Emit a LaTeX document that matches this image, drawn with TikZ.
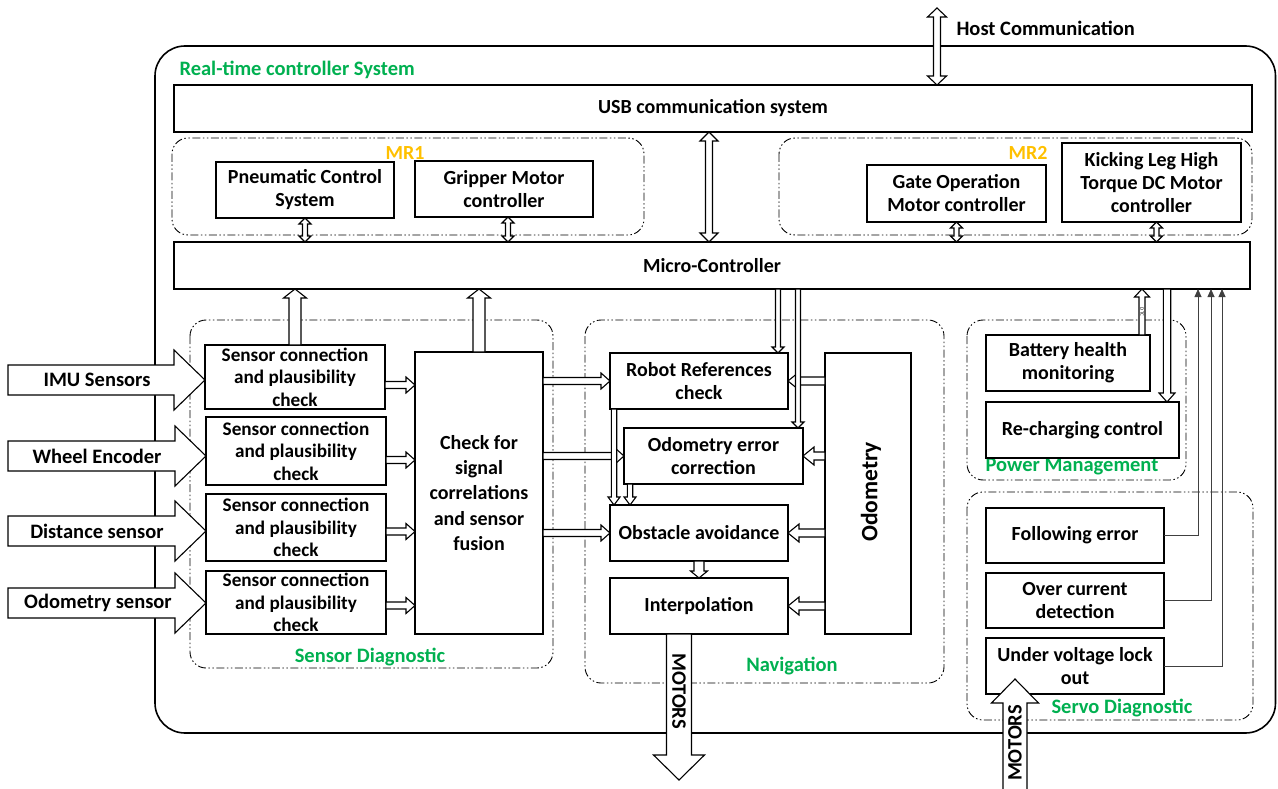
\documentclass[tikz,border=0pt]{standalone}
\usepackage{fontspec}
\setmainfont{Carlito}
\usetikzlibrary{calc,arrows.meta}

\definecolor{lblgreen}{HTML}{00B050}
\definecolor{mrorange}{HTML}{FFC000}

\tikzset{
  blk/.style={draw, line width=1.3pt, fill=white, align=center, inner sep=0pt,
    outer sep=0pt, font=\bfseries\fontsize{20}{23}\selectfont},
  sensbox/.style={blk, minimum width=180, font=\bfseries\fontsize{19.2}{22.5}\selectfont},
  grp/.style={draw=black, line width=0.9pt, rounded corners=16pt,
    dash pattern=on 8pt off 2.5pt on 1.5pt off 2.5pt on 1.5pt off 2.5pt},
  grplabel/.style={text=lblgreen, font=\bfseries\fontsize{20.5}{23}\selectfont},
  mrlabel/.style={text=mrorange, font=\bfseries\fontsize{20}{23}\selectfont},
  lbl/.style={font=\bfseries\fontsize{20.5}{23}\selectfont},
  fatline/.style={draw, fill=white, line width=1.1pt, line join=miter},
  sig/.style={draw=black!75, line width=0.8pt, -{Triangle[width=7pt,length=8pt]}},
}

% hollow block arrow: start, tip, half shaft, half head, head length
\newcommand{\fatarrow}[5]{%
  \draw[fatline] let \p1=(#1), \p2=(#2),
      \n1={veclen(\x2-\x1,\y2-\y1)},
      \n2={(\x2-\x1)/\n1}, \n3={(\y2-\y1)/\n1} in
    ({\x1-(\n3)*#3},{\y1+(\n2)*#3})
    -- ({\x2-(\n2)*#5-(\n3)*#3},{\y2-(\n3)*#5+(\n2)*#3})
    -- ({\x2-(\n2)*#5-(\n3)*#4},{\y2-(\n3)*#5+(\n2)*#4})
    -- (\p2)
    -- ({\x2-(\n2)*#5+(\n3)*#4},{\y2-(\n3)*#5-(\n2)*#4})
    -- ({\x2-(\n2)*#5+(\n3)*#3},{\y2-(\n3)*#5-(\n2)*#3})
    -- ({\x1+(\n3)*#3},{\y1-(\n2)*#3}) -- cycle;}

% hollow block arrow with two heads
\newcommand{\fatdarrow}[5]{%
  \draw[fatline] let \p1=(#1), \p2=(#2),
      \n1={veclen(\x2-\x1,\y2-\y1)},
      \n2={(\x2-\x1)/\n1}, \n3={(\y2-\y1)/\n1} in
    (\p1)
    -- ({\x1+(\n2)*#5-(\n3)*#4},{\y1+(\n3)*#5+(\n2)*#4})
    -- ({\x1+(\n2)*#5-(\n3)*#3},{\y1+(\n3)*#5+(\n2)*#3})
    -- ({\x2-(\n2)*#5-(\n3)*#3},{\y2-(\n3)*#5+(\n2)*#3})
    -- ({\x2-(\n2)*#5-(\n3)*#4},{\y2-(\n3)*#5+(\n2)*#4})
    -- (\p2)
    -- ({\x2-(\n2)*#5+(\n3)*#4},{\y2-(\n3)*#5-(\n2)*#4})
    -- ({\x2-(\n2)*#5+(\n3)*#3},{\y2-(\n3)*#5-(\n2)*#3})
    -- ({\x1+(\n2)*#5+(\n3)*#3},{\y1+(\n3)*#5-(\n2)*#3})
    -- ({\x1+(\n2)*#5+(\n3)*#4},{\y1+(\n3)*#5-(\n2)*#4})
    -- cycle;}

\begin{document}
\begin{tikzpicture}[x=1pt, y=-1pt]
  \useasboundingbox (0,0) rectangle (1278,789);

  % frames
  \draw[line width=1.6pt, rounded corners=30pt] (155,46) rectangle (1275.5,733);
  \draw[grp] (172,138) rectangle (644,235);
  \draw[grp] (779,138) rectangle (1252,235);
  \draw[grp] (190,320) rectangle (553,668);
  \draw[grp] (585,320) rectangle (944,683);
  \draw[grp] (967,320) rectangle (1186,480);
  \draw[grp] (967,492) rectangle (1253,720);

  \node[grplabel, anchor=west] (rtlabel) at (176,70) {Real-time controller System};
  \node[mrlabel] (mr1) at (405,153) {MR1};
  \node[mrlabel] (mr2) at (1028,153) {MR2};
  \node[grplabel] (sdlabel) at (370,657) {Sensor Diagnostic};
  \node[grplabel] (navlabel) at (792,666) {Navigation};
  \node[grplabel] (pwlabel) at (1072,467) {Power Management};
  \node[grplabel] (svlabel) at (1122,708) {Servo Diagnostic};

  % blocks
  \node[blk, minimum width=1078, minimum height=47] (usb) at (713,108.5) {USB communication system};
  \node[blk, minimum width=1076, minimum height=47] (mc) at (712,265.5) {Micro-Controller};
  \node[blk, minimum width=178, minimum height=56] (pneu) at (305,190) {Pneumatic Control\\System};
  \node[blk, minimum width=178, minimum height=56] (grip) at (504,189) {Gripper Motor\\controller};
  \node[blk, minimum width=179, minimum height=57] (gate) at (956.5,193.5) {Gate Operation\\Motor controller};
  \node[blk, minimum width=179, minimum height=79] (kick) at (1151.5,182.5) {Kicking Leg High\\Torque DC Motor\\controller};

  \node[sensbox, minimum height=64] (s1) at (295,377) {Sensor connection\\and plausibility\\check};
  \node[sensbox, minimum height=68] (s2) at (296,451) {Sensor connection\\and plausibility\\check};
  \node[sensbox, minimum height=67] (s3) at (296,527.5) {Sensor connection\\and plausibility\\check};
  \node[sensbox, minimum height=63] (s4) at (296,602.5) {Sensor connection\\and plausibility\\check};
  \node[blk, minimum width=128, minimum height=282, font=\bfseries\fontsize{20}{25.2}\selectfont] (chk) at (479,493) {Check for\\signal\\correlations\\and sensor\\fusion};

  \node[blk, minimum width=178, minimum height=56] (rref) at (699,381) {Robot References\\check};
  \node[blk, minimum width=179, minimum height=56] (oerr) at (713.5,456) {Odometry error\\correction};
  \node[blk, minimum width=178, minimum height=56] (obst) at (699,533) {Obstacle avoidance};
  \node[blk, minimum width=178, minimum height=56] (intp) at (699,606) {Interpolation};
  \node[blk, minimum width=86, minimum height=281] (odo) at (868,493.5) {};
  \node[rotate=90, font=\bfseries\fontsize{23.5}{26}\selectfont] (odolbl) at (871,492) {Odometry};

  \node[blk, minimum width=164, minimum height=56] (batt) at (1068,363) {Battery health\\monitoring};
  \node[blk, minimum width=193, minimum height=56] (rech) at (1082.5,430) {Re-charging control};
  \node[blk, minimum width=178, minimum height=55] (foll) at (1075,535.5) {Following error};
  \node[blk, minimum width=178, minimum height=55] (ovc) at (1075,600.5) {Over current\\detection};
  \node[blk, minimum width=178, minimum height=56] (uvl) at (1075,666) {Under voltage lock\\out};

  % bus arrows
  \coordinate (host) at (937,8);
  \fatdarrow{host}{usb.north -| host}{3.5pt}{9.5pt}{9pt}
  \node[lbl, anchor=west] (hostlbl) at (953,28) {Host Communication};
  \coordinate (usbmc) at ($(usb.south)+(-4,0)$);
  \fatdarrow{usbmc}{mc.north -| usbmc}{3.5pt}{9pt}{9pt}
  \coordinate (gripbus) at ($(grip.south)+(4,0)$);
  \coordinate (kickbus) at ($(kick.south)+(5,0)$);
  \fatdarrow{pneu.south}{mc.north -| pneu.south}{2.5pt}{6pt}{6pt}
  \fatdarrow{gripbus}{mc.north -| gripbus}{2.5pt}{6pt}{6pt}
  \fatdarrow{gate.south}{mc.north -| gate.south}{2.5pt}{6pt}{6pt}
  \fatdarrow{kickbus}{mc.north -| kickbus}{2.5pt}{6pt}{6pt}

  % sensor inputs
  \foreach \i/\y in {1/380, 2/456, 3/531, 4/603}
    \coordinate (in\i) at (8,\y);
  \foreach \i in {1,...,4}
    {\fatarrow{in\i}{s\i.west |- in\i}{15pt}{30pt}{31pt}}
  \node[lbl] (imu) at (97,380) {IMU Sensors};
  \node[lbl] (wheel) at (97,456) {Wheel Encoder};
  \node[lbl] (dist) at (97,531) {Distance sensor};
  \node[lbl] (odosen) at (98,603) {Odometry sensor};

  \foreach \i/\d in {1/8, 2/9, 3/4, 4/3}
    {\coordinate (so\i) at ($(s\i.east)+(0,\d)$);
     \fatarrow{so\i}{chk.west |- so\i}{3.5pt}{8pt}{9pt}}
  \fatarrow{s1.north}{mc.south -| s1.north}{6pt}{11.5pt}{9pt}
  \fatarrow{chk.north}{mc.south -| chk.north}{6pt}{11.5pt}{9pt}

  % navigation
  \foreach \b in {rref, oerr, obst}
    {\fatarrow{chk.east |- \b.west}{\b.west}{3.5pt}{8pt}{9pt}}
  \foreach \b in {rref, oerr, obst, intp}
    {\fatarrow{odo.west |- \b.east}{\b.east}{4pt}{9pt}{11pt}}
  \coordinate (mcr) at ($(rref.north east)+(-10,0)$);
  \coordinate (mco) at ($(oerr.north east)+(-5,0)$);
  \fatarrow{mc.south -| mcr}{mcr}{2.5pt}{6pt}{6pt}
  \fatarrow{mc.south -| mco}{mco}{2.5pt}{6pt}{6pt}
  \coordinate (ro) at ($(rref.south west)+(4,0)$);
  \coordinate (oo) at ($(oerr.south west)+(6,0)$);
  \fatarrow{ro}{obst.north -| ro}{2.7pt}{6pt}{8pt}
  \fatarrow{oo}{obst.north -| oo}{2.7pt}{6pt}{8pt}
  \fatarrow{obst.south}{intp.north}{5pt}{8.5pt}{7pt}

  \coordinate (motout) at (679,780);
  \fatarrow{intp.south -| motout}{motout}{12.5pt}{25.5pt}{25pt}
  \node[lbl, rotate=-90] (motorsout) at (679,691) {MOTORS};

  % power and servo
  \coordinate (dtc) at ($(batt.north east)+(-8,0)$);
  \fatarrow{dtc}{mc.south -| dtc}{3pt}{7.5pt}{8pt}
  \node[rotate=-90, font=\fontsize{5}{6}\selectfont, inner sep=0pt] (dtclbl) at (1142,312) {DTC};
  \coordinate (rc) at ($(rech.north east)+(-12,0)$);
  \fatarrow{mc.south -| rc}{rc}{3.7pt}{8pt}{9pt}

  \draw[sig] (foll.east) -| ($(mc.south east)+(-52,0)$);
  \draw[sig] (ovc.east) -| ($(mc.south east)+(-39,0)$);
  \draw[sig] (uvl.east) -| ($(mc.south east)+(-28,0)$);

  \coordinate (motin) at (1015,795);
  \coordinate (motintip) at ($(uvl.south -| motin)+(0,-15)$);
  \fatarrow{motin}{motintip}{12pt}{23.5pt}{24pt}
  \node[lbl, rotate=90] (motorsin) at (1015,743) {MOTORS};
\end{tikzpicture}
\end{document}
